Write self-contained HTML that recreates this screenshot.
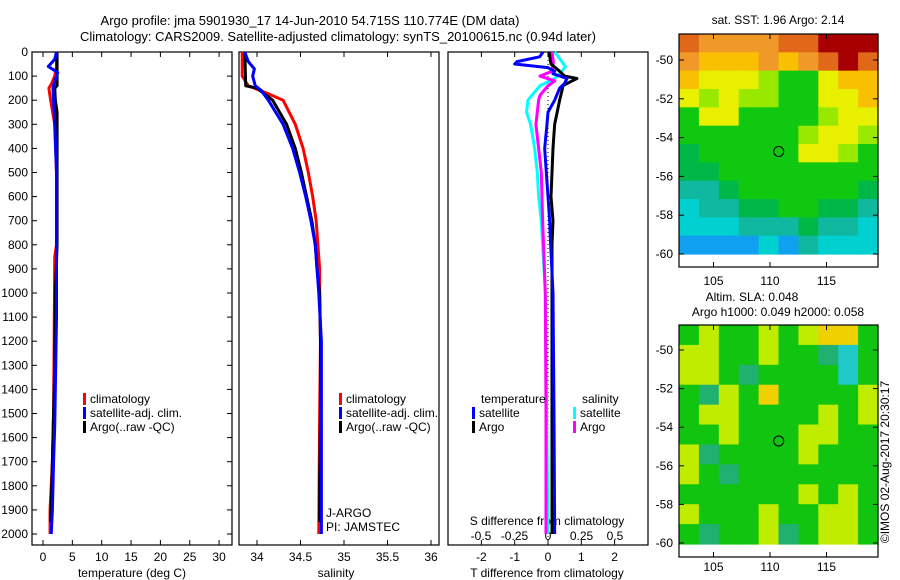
<!DOCTYPE html>
<html><head><meta charset="utf-8"><style>
body{margin:0;background:#fff}
svg{display:block;font-family:"Liberation Sans",sans-serif;font-size:12px}
</style></head><body>
<svg id="c" width="900" height="580" viewBox="0 0 900 580">
<text x="310" y="25" text-anchor="middle" font-size="13">Argo profile: jma 5901930_17 14-Jun-2010 54.715S 110.774E (DM data)</text>
<text x="338" y="41" text-anchor="middle" font-size="13">Climatology: CARS2009. Satellite-adjusted climatology: synTS_20100615.nc (0.94d later)</text>
<g id="g"></g>
</svg>
<script>
// ---- data ----
const depthTicks=[0,100,200,300,400,500,600,700,800,900,1000,1100,1200,1300,1400,1500,1600,1700,1800,1900,2000];
const tempTicks=[0,5,10,15,20,25,30];
const salTicks=[34,34.5,35,35.5,36];
const tdiffTicks=[-2,-1,0,1,2];
const sdiffTicks=[-0.5,-0.25,0,0.25,0.5];
const sdiffTickLabels=["-0.5","-0.25","0","0.25","0.5"];
// temperature profiles [depth, value]
const tClimD=[0,60,100,130,150,200,300,500,800,850,1200,1500,1700,1900,2000];
const tClimV=[2.3,2.3,2.0,1.5,1.0,1.3,2.0,2.3,2.3,2.0,1.9,1.8,1.6,1.2,1.2];
const tSatD=[0,30,60,85,120,150,200,300,500,800,1100,1400,1550,1700,1900,2000];
const tSatV=[2.3,2.0,0.9,2.5,2.0,1.7,1.8,2.0,2.3,2.3,2.3,2.1,2.0,1.8,1.6,1.4];
const tArgoD=[0,140,150,200,250,800,1000,1300,1600,1800,1950];
const tArgoV=[2.4,2.4,2.0,2.1,2.4,2.4,2.1,2.0,1.7,1.5,1.3];
// salinity profiles
const sClimD=[0,100,140,170,200,300,400,500,600,700,800,900,1000,1200,1500,2000];
const sClimV=[33.83,33.83,33.90,34.11,34.30,34.44,34.53,34.59,34.64,34.68,34.70,34.72,34.72,34.73,34.72,34.71];
const sSatD=[0,40,70,100,140,160,200,300,400,500,600,700,800,900,1000,1200,1500,2000];
const sSatV=[33.86,33.90,33.97,33.95,33.98,34.05,34.13,34.30,34.41,34.49,34.56,34.62,34.67,34.69,34.71,34.74,34.74,34.74];
const sArgoD=[0,140,150,200,300,400,500,600,700,800,900,1000,1200,1500,1800,1950];
const sArgoV=[33.86,33.87,34.00,34.18,34.34,34.44,34.51,34.57,34.63,34.67,34.69,34.72,34.73,34.73,34.72,34.72];
// differences
const dTsatD=[0,20,40,50,65,80,90,110,130,150,200,250,300,400,500,700,800,1000,1500,2000];
const dTsatV=[-0.15,-0.25,-0.93,-1.0,0,0.2,0.15,0.57,0.5,0.35,0.2,0,-0.03,-0.1,-0.05,0.05,0.08,0.15,0.18,0.2];
const dTargoD=[0,50,80,100,110,120,140,160,200,300,400,500,600,700,800,1000,1500,2000];
const dTargoV=[0.03,0.09,0.35,0.5,0.87,0.72,0.45,0.42,0.35,0.2,0.15,0.12,0.09,0.15,0.12,0.12,0.12,0.12];
const dSsatD=[0,30,60,90,110,140,200,250,300,400,500,600,700,800,1000,1500,2000];
const dSsatV=[0.05,0.09,0.13,0.09,0.05,-0.06,-0.15,-0.16,-0.13,-0.1,-0.08,-0.07,-0.05,-0.04,-0.02,-0.01,0];
const dSargoD=[0,40,80,100,120,140,180,200,300,400,500,700,1000,1500,2000];
const dSargoV=[0.03,0.04,0.03,-0.06,0.05,0,-0.06,-0.07,-0.09,-0.07,-0.05,-0.04,-0.02,-0.015,-0.015];
// maps
const lonTicks=[105,110,115];
const map1LatTicks=[-50,-52,-54,-56,-58,-60];
const map2LatTicks=[-50,-52,-54,-56,-58,-60];
const map1Grid=["oOOOOooRRR","OAAAOAOoRo","AYYYLGGYAA","YLYLLGGYYA","GYYGGGGLYY","GGGGGGLYYL","gGGGGGYYLG","ggGGGGGGGG","TTgGGGGGGg","CTTggGGggT","CCCTTTgTTC","BBBBCBTCCC"];
const map2Grid=["GYGGYGYOOG","YYGGYGGTCG","YYGTGGGGCG","GTYGOGGGGY","GYYGGGGYGY","GGYGGGYYGG","YTGGGGYGGG","YGTGGGGGGG","GGGGGGYGYG","YGGGYGGYYG","GTGGYTGYYG"];
const floatLon=110.774, floatLat=-54.715;

// ---- drawing ----
const NS="http://www.w3.org/2000/svg";
const G=document.getElementById('g');
function mk(tag,attrs,parent){const e=document.createElementNS(NS,tag);for(const k in attrs)e.setAttribute(k,attrs[k]);(parent||G).appendChild(e);return e;}
function txt(x,y,s,anchor,parent){const t=mk('text',{x:x,y:y,'text-anchor':anchor||'middle'},parent);t.textContent=s;return t;}
const yD=d=>52+d*0.241;
const panels=[{x0:32,x1:232},{x0:239,x1:439},{x0:448,x1:648}];
const xT=v=>43+v*5.87, xS=v=>257+(v-34)*87, xDT=v=>548+v*33.3, xDS=v=>548+v*134;

function frame(p,name){const r=mk('rect',{x:p.x0,y:52,width:p.x1-p.x0,height:493,fill:'none',stroke:'#000','stroke-width':1.2});}
frame(panels[0],'temperature-panel');frame(panels[1],'salinity-panel');frame(panels[2],'difference-panel');

// depth axis
depthTicks.forEach(d=>{const y=yD(d);mk('line',{x1:32,x2:37,y1:y,y2:y,stroke:'#000'});mk('line',{x1:227,x2:232,y1:y,y2:y,stroke:'#000'});
 const t=txt(28,y+4,String(d),'end');});

function xticks(ticks,fx,labels,y,name){ticks.forEach((v,i)=>{const x=fx(v);mk('line',{x1:x,x2:x,y1:545,y2:540,stroke:'#000'});mk('line',{x1:x,x2:x,y1:52,y2:57,stroke:'#000'});
 const t=txt(x,y,labels?labels[i]:String(v));});}
xticks(tempTicks,xT,null,561,'temperature-tick-label');
xticks(salTicks,xS,null,561,'salinity-tick-label');
xticks(tdiffTicks,xDT,null,561,'tdiff-tick-label');
sdiffTickLabels.forEach((s,i)=>{const t=txt(xDS(sdiffTicks[i]),540,s);});
let t;
t=txt(132,577,'temperature (deg C)');
t=txt(336,577,'salinity');
t=txt(547,577,'T difference from climatology');
t=txt(547,525,'S difference from climatology');
t=txt(326,517,'J-ARGO','start');
t=txt(326,531,'PI: JAMSTEC','start');

// zero line in diff panel
mk('line',{x1:xDT(0),x2:xDT(0),y1:52,y2:545,stroke:'#000','stroke-dasharray':'1,3'});

function stepLine(D,V,fx,color,w,name){let s='';for(let i=0;i<D.length;i++){const x=fx(V[i]),y=yD(D[i]);s+=(i?'L':'M')+x+','+y+' ';if(i<D.length-1){}}
 const p=mk('path',{d:s,fill:'none',stroke:color,'stroke-width':w,'stroke-linejoin':'round'});}
stepLine(tClimD,tClimV,xT,'#f00',3,'temp-climatology-line');
stepLine(tArgoD,tArgoV,xT,'#000',3,'temp-argo-line');
stepLine(tSatD,tSatV,xT,'#00f',3,'temp-satellite-line');
stepLine(sClimD,sClimV,xS,'#f00',3,'sal-climatology-line');
stepLine(sArgoD,sArgoV,xS,'#000',3,'sal-argo-line');
stepLine(sSatD,sSatV,xS,'#00f',3,'sal-satellite-line');
stepLine(dSsatD,dSsatV,xDS,'#0ff',3,'sdiff-satellite-line');
stepLine(dSargoD,dSargoV,xDS,'#f0f',3,'sdiff-argo-line');
stepLine(dTargoD,dTargoV,xDT,'#000',3,'tdiff-argo-line');
stepLine(dTsatD,dTsatV,xDT,'#00f',3,'tdiff-satellite-line');

function legEntry(x,y,color,label,name){mk('rect',{x:x,y:y-10,width:3,height:12,fill:color});const t=txt(x+7,y,label,'start');}
[[83,339]].forEach(()=>{});
[83,339].forEach((x,k)=>{const pre=k?'sal':'temp';
 legEntry(x,403,'#f00','climatology',pre+'-legend-climatology');
 legEntry(x,417,'#00f','satellite-adj. clim.',pre+'-legend-satellite');
 legEntry(x,431,'#000','Argo(..raw -QC)',pre+'-legend-argo');});
t=txt(481,403,'temperature','start');
t=txt(582,403,'salinity','start');
legEntry(472,417,'#00f','satellite','legend-t-satellite');
legEntry(472,431,'#000','Argo','legend-t-argo');
legEntry(573,417,'#0ff','satellite','legend-s-satellite');
legEntry(573,431,'#f0f','Argo','legend-s-argo');

// maps
const col={R:'#a80000',o:'#e06818',O:'#f09828',A:'#f8c000',Y:'#e8f000',L:'#98e800',G:'#10c810',g:'#00b848',T:'#10b8a0',C:'#00d0d0',B:'#10a0f0',O2:'#f0d000'};
const col2={G:'#10c410',Y:'#c0ec00',O:'#f0d000',T:'#20b070',C:'#20c8c8'};
function drawMap(x0,y0,w,hImg,hBox,grid,cmap,latTicks,latY0,latScale,name,lonY){
 const gEl=mk('g',{});
 const rows=grid.length,cols=grid[0].length,cw=w/cols,ch=hImg/rows;
 grid.forEach((r,i)=>{for(let j=0;j<cols;j++)mk('rect',{x:x0+j*cw,y:y0+i*ch,width:cw+0.6,height:ch+0.6,fill:cmap[r[j]]},gEl);});
 mk('rect',{x:x0,y:y0,width:w,height:hBox,fill:'none',stroke:'#000','stroke-width':1.2},gEl);
 const lx=v=>770+(v-110)*11.3, ly=v=>latY0+(-50-v)*latScale;
 latTicks.forEach(v=>{const y=ly(v);mk('line',{x1:x0,x2:x0+5,y1:y,y2:y,stroke:'#000'},gEl);mk('line',{x1:x0+w-5,x2:x0+w,y1:y,y2:y,stroke:'#000'},gEl);
  const t=txt(673,y+4,String(v),'end',gEl);});
 lonTicks.forEach(v=>{const x=lx(v);mk('line',{x1:x,x2:x,y1:y0+hBox,y2:y0+hBox-5,stroke:'#000'},gEl);mk('line',{x1:x,x2:x,y1:y0,y2:y0+5,stroke:'#000'},gEl);
  const t=txt(x,lonY,String(v),'middle',gEl);});
 const c=mk('circle',{cx:lx(floatLon),cy:ly(floatLat),r:5,fill:'none',stroke:'#000','stroke-width':1},gEl);
 
}
drawMap(679,34,199,220,233,map1Grid,col,map1LatTicks,60,19.4,'sst-map',285);
drawMap(679,325,199,219,232,map2Grid,col2,map2LatTicks,350,19.3,'sla-map',571);
t=txt(778,24,'sat. SST: 1.96 Argo: 2.14');
t=txt(752,301,'Altim. SLA: 0.048');
t=txt(778,316,'Argo h1000: 0.049 h2000: 0.058');
t=txt(0,0,'©IMOS 02-Aug-2017 20:30:17');t.setAttribute('transform','translate(889,462) rotate(-90)');
</script>
</body></html>
